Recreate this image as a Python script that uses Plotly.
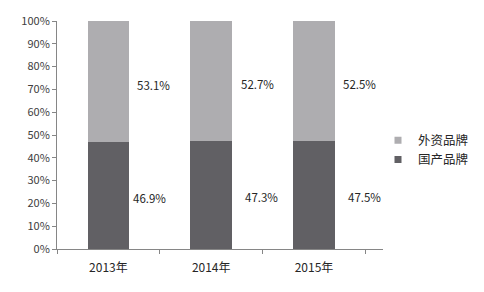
import plotly.graph_objects as go

categories = ["2013年", "2014年", "2015年"]
domestic = [46.9, 47.3, 47.5]   # 国产品牌
foreign = [53.1, 52.7, 52.5]    # 外资品牌
tick_vals = [0, 10, 20, 30, 40, 50, 60, 70, 80, 90, 100]
tick_text = [f"{v}%" for v in tick_vals]

dark = "#616064"
light = "#aeadb0"
font_cjk = "Noto Sans CJK SC, Noto Sans, sans-serif"

fig = go.Figure()
fig.add_trace(go.Bar(x=categories, y=domestic, name="国产品牌", showlegend=False,
                     marker=dict(color=dark, line=dict(width=0)), hoverinfo="skip"))
fig.add_trace(go.Bar(x=categories, y=foreign, name="外资品牌", showlegend=False,
                     marker=dict(color=light, line=dict(width=0)), hoverinfo="skip"))
# legend entries with small square swatches
fig.add_trace(go.Scatter(x=[None], y=[None], mode="markers", name="国产品牌",
                         marker=dict(symbol="square", size=7, color=dark)))
fig.add_trace(go.Scatter(x=[None], y=[None], mode="markers", name="外资品牌",
                         marker=dict(symbol="square", size=7, color=light)))

# data labels right of bars at segment midpoints
top_shift = [5, 6, 5]
bot_shift = [1, 10, 10]
bar_half_px = 22
for i, c in enumerate(categories):
    fig.add_annotation(x=c, y=domestic[i] / 2, text=f"{domestic[i]:.1f}%",
                       showarrow=False, xanchor="left", yanchor="middle",
                       xshift=bar_half_px + bot_shift[i], yshift=-2,
                       font=dict(size=11.5, color="#262626", family=font_cjk))
    fig.add_annotation(x=c, y=domestic[i] + foreign[i] / 2, text=f"{foreign[i]:.1f}%",
                       showarrow=False, xanchor="left", yanchor="middle",
                       xshift=bar_half_px + top_shift[i], yshift=-3,
                       font=dict(size=11.5, color="#262626", family=font_cjk))

fig.update_layout(
    barmode="stack",
    bargap=0.595,
    width=484, height=292,
    margin=dict(l=57, r=101, t=21, b=43, autoexpand=False),
    paper_bgcolor="white", plot_bgcolor="white",
    font=dict(family=font_cjk, color="#404040", size=11),
    showlegend=True,
    legend=dict(traceorder="reversed", xref="container", yref="container",
                x=378 / 484, y=1 - 150 / 292, xanchor="left", yanchor="middle",
                font=dict(size=12.5, color="#262626", family=font_cjk),
                itemwidth=30, tracegroupgap=0, bgcolor="rgba(0,0,0,0)"),
)
fig.update_yaxes(range=[0, 100], tickvals=tick_vals, ticktext=tick_text,
                 showgrid=False, zeroline=False, showline=True, linecolor="#868686",
                 linewidth=1, ticks="outside", ticklen=4, tickcolor="#868686",
                 tickfont=dict(size=11, color="#404040"))
fig.update_xaxes(showgrid=False, showline=True, linecolor="#868686", linewidth=1,
                 ticks="outside", ticklen=4, tickcolor="#868686", tickson="boundaries",
                 ticklabelstandoff=8,
                 tickfont=dict(size=12, color="#262626"))

fig.write_html("out.html")
